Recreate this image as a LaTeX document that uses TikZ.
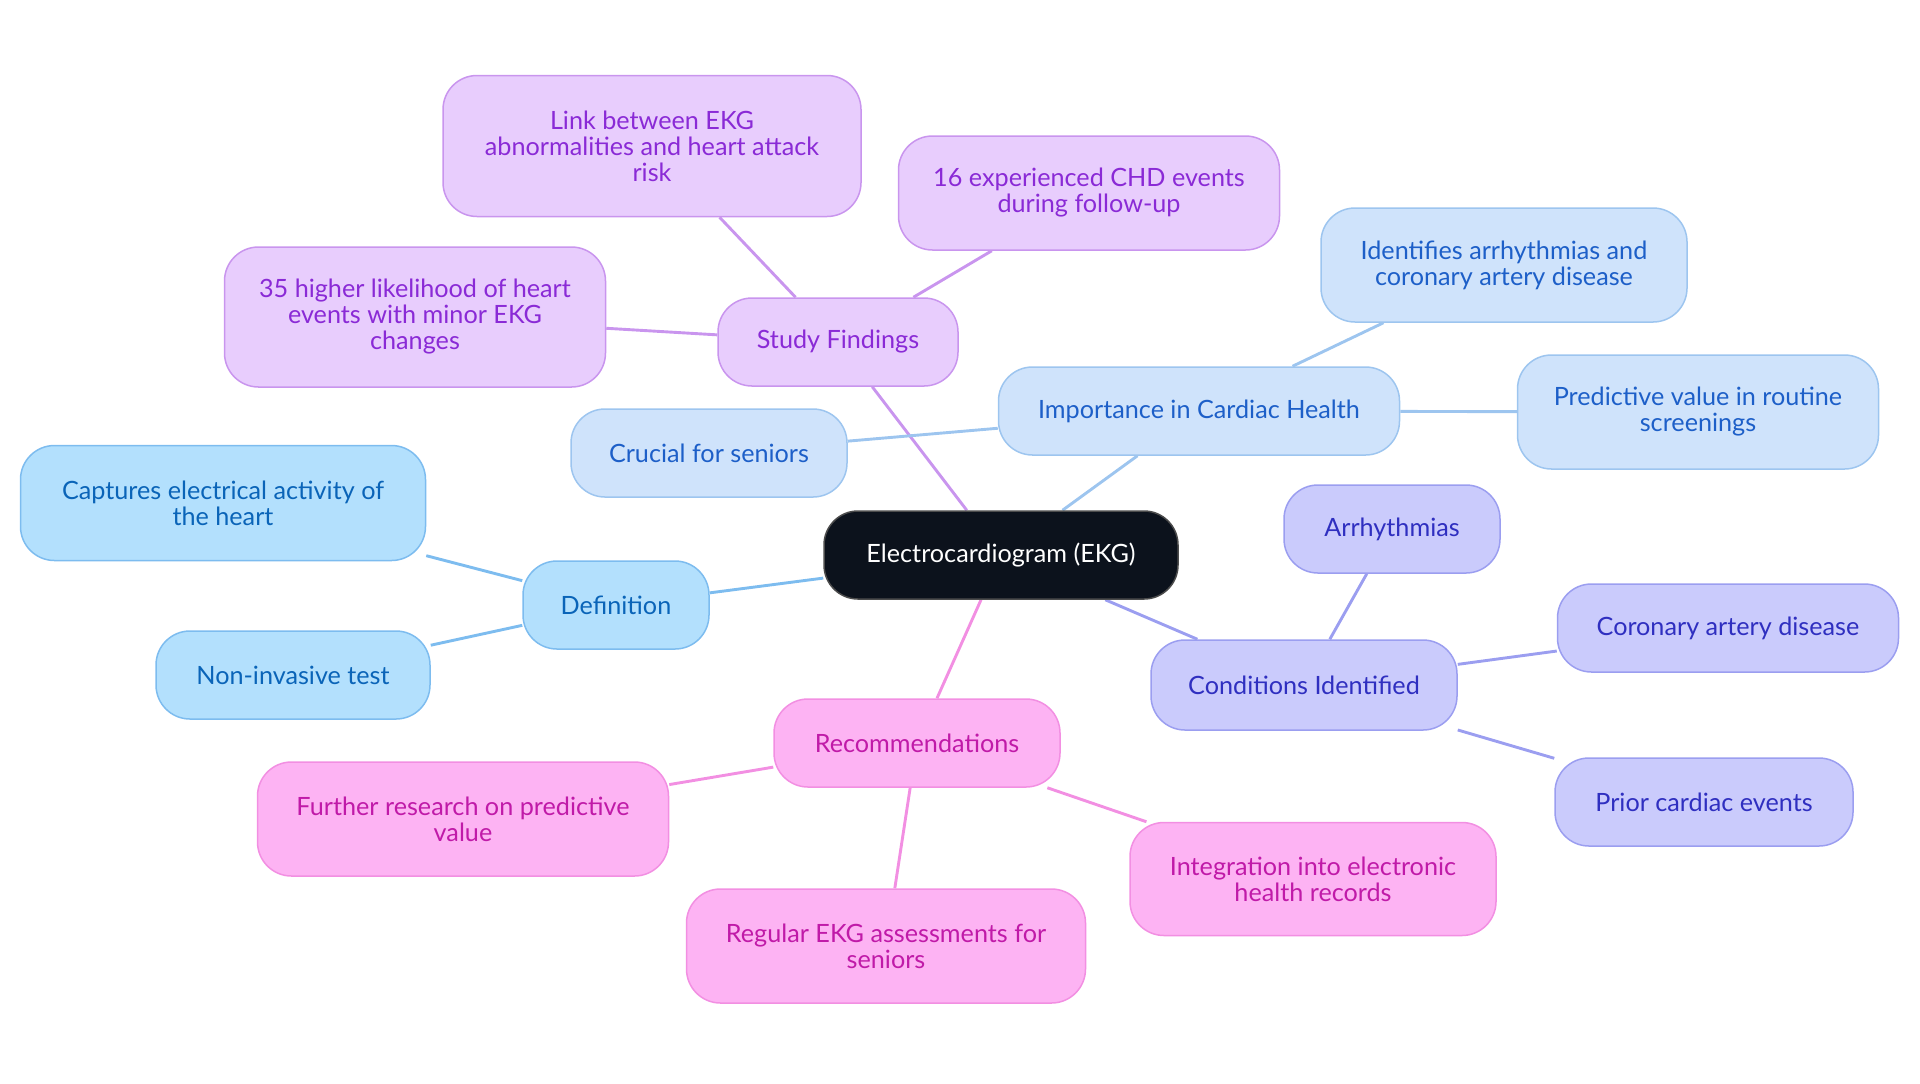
\documentclass[tikz,border=0pt]{standalone}
\usepackage{fontspec}
\setmainfont{Lato}
\usetikzlibrary{backgrounds}
\definecolor{bFill}{HTML}{B3E0FD}\definecolor{bLine}{HTML}{7DBCEF}\definecolor{bText}{HTML}{0A64B8}
\definecolor{lFill}{HTML}{CFE3FB}\definecolor{lLine}{HTML}{9DC5EF}\definecolor{lText}{HTML}{1D5FC8}
\definecolor{cFill}{HTML}{CACBFC}\definecolor{cLine}{HTML}{9B9EF0}\definecolor{cText}{HTML}{2F2FC0}
\definecolor{sFill}{HTML}{E8CDFD}\definecolor{sLine}{HTML}{C995EE}\definecolor{sText}{HTML}{8A2AD6}
\definecolor{rFill}{HTML}{FDB3F3}\definecolor{rLine}{HTML}{F28FE2}\definecolor{rText}{HTML}{C01AA8}
\definecolor{core}{HTML}{0C121C}
\tikzset{
  box/.style={rectangle, rounded corners=17pt, line width=0.75pt, align=center, inner sep=0pt,
    font=\fontsize{12.6}{13}\selectfont},
  defbox/.style={box, fill=bFill, draw=bLine, text=bText},
  impbox/.style={box, fill=lFill, draw=lLine, text=lText},
  conbox/.style={box, fill=cFill, draw=cLine, text=cText},
  stubox/.style={box, fill=sFill, draw=sLine, text=sText},
  recbox/.style={box, fill=rFill, draw=rLine, text=rText},
  corebox/.style={box, fill=core, draw=gray!60!black, text=white},
  link/.style={line width=1.45pt},
  sz/.style 2 args={minimum width=#1pt, minimum height=#2pt}
}
\begin{document}
\begin{tikzpicture}[x=0.5pt,y=-0.5pt]
\useasboundingbox (0,0) rectangle (1920,1083);
\node[corebox, sz={177}{44}] (ekg) at (1001,555) {Electrocardiogram (EKG)};

\node[stubox, sz={120}{44}] (stu) at (838,342) {Study Findings};
\node[stubox, sz={209}{70.5}] (stu1) at (652,146) {Link between EKG\\abnormalities and heart attack\\risk};
\node[stubox, sz={190.5}{57}] (stu2) at (1089,193) {16 experienced CHD events\\during follow-up};
\node[stubox, sz={190.5}{70}] (stu3) at (415,317) {35 higher likelihood of heart\\events with minor EKG\\changes};

\node[impbox, sz={200.5}{44}] (imp) at (1199,411) {Importance in Cardiac Health};
\node[impbox, sz={183}{57}] (imp1) at (1504,265) {Identifies arrhythmias and\\coronary artery disease};
\node[impbox, sz={180.5}{57}] (imp2) at (1698,412) {Predictive value in routine\\screenings};
\node[impbox, sz={138}{44}] (imp3) at (709,453) {Crucial for seniors};

\node[defbox, sz={93}{44}] (def) at (616,605) {Definition};
\node[defbox, sz={202.5}{57.5}] (def1) at (223,503) {Captures electrical activity of\\the heart};
\node[defbox, sz={137}{44}] (def2) at (293,675) {Non-invasive test};

\node[conbox, sz={153}{45}] (con) at (1304,685) {Conditions Identified};
\node[conbox, sz={108}{44}] (con1) at (1392,529) {Arrhythmias};
\node[conbox, sz={170.5}{44}] (con2) at (1728,628) {Coronary artery disease};
\node[conbox, sz={149}{44}] (con3) at (1704,802) {Prior cardiac events};

\node[recbox, sz={143}{44}] (rec) at (917,743) {Recommendations};
\node[recbox, sz={205.5}{57}] (rec1) at (463,819) {Further research on predictive\\value};
\node[recbox, sz={199.5}{57}] (rec2) at (886,946) {Regular EKG assessments for\\seniors};
\node[recbox, sz={183}{56.5}] (rec3) at (1313,879) {Integration into electronic\\health records};

\begin{scope}[on background layer]
\draw[link, draw=sLine] (ekg) -- (stu) (stu) -- (stu1) (stu) -- (stu2) (stu) -- (stu3);
\draw[link, draw=lLine] (ekg) -- (imp) (imp) -- (imp1) (imp) -- (imp2) (imp) -- (imp3);
\draw[link, draw=bLine] (ekg) -- (def) (def) -- (def1) (def) -- (def2);
\draw[link, draw=cLine] (ekg) -- (con) (con) -- (con1) (con) -- (con2) (con) -- (con3);
\draw[link, draw=rLine] (ekg) -- (rec) (rec) -- (rec1) (rec) -- (rec2) (rec) -- (rec3);
\end{scope}
\end{tikzpicture}
\end{document}
